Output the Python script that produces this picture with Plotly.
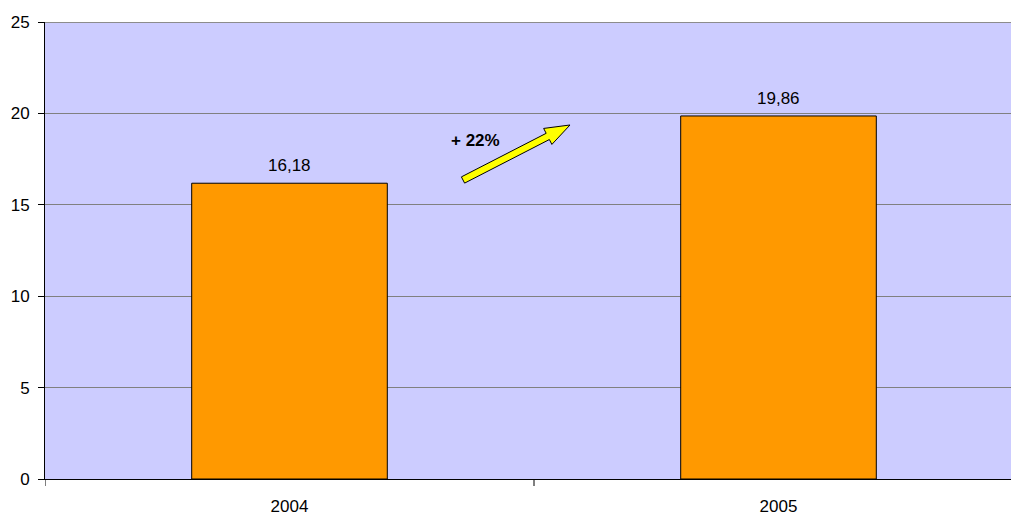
import numpy as np
import plotly.graph_objects as go

categories = ["2004", "2005"]
values = [16.18, 19.86]
y_ticks = [0, 5, 10, 15, 20, 25]
growth_label = "+ 22%"
title_text = "(v miliónoch EUR)"

W, H = 1011, 516
ML, MR, MT, MB = 45, 0, 22, 37
PW, PH = W - ML - MR, H - MT - MB

def px_to_paper(px, py):
    return (px - ML) / PW, (H - MB - py) / PH

# arrow polygon (decoration), built from tail/tip pixel positions
tail = np.array([463.0, 180.0])
tip = np.array([570.0, 125.0])
d = tip - tail
L = np.linalg.norm(d)
u = d / L
n = np.array([-u[1], u[0]])
shaft_w, head_w, head_len = 7.0, 18.0, 25.0
base = tip - u * head_len
pts = [tail + n * shaft_w / 2, base + n * shaft_w / 2, base + n * head_w / 2, tip,
       base - n * head_w / 2, base - n * shaft_w / 2, tail - n * shaft_w / 2]
path = ""
for i, p in enumerate(pts):
    x, y = px_to_paper(*p)
    path += ("M" if i == 0 else "L") + f"{x:.5f},{y:.5f} "
path += "Z"

fig = go.Figure()
fig.add_trace(go.Bar(
    x=[0, 1], y=values, width=0.4,
    marker=dict(color="#FF9900", line=dict(color="#000000", width=1)),
))

fig.update_layout(
    width=W, height=H,
    margin=dict(l=ML, r=MR, t=MT, b=MB, pad=0, autoexpand=False),
    paper_bgcolor="#FFFFFF", plot_bgcolor="#CCCCFF",
    separators=",.",
    showlegend=False,
    font=dict(family="Liberation Sans, Arial", size=17, color="#000000"),
    xaxis=dict(
        range=[-0.5, -0.5 + PW / 489.0],
        tickmode="array", tickvals=[0, 1], ticktext=categories,
        showgrid=False, zeroline=False, automargin=False,
        showline=True, linecolor="#000000", linewidth=1,
        ticks="", ticklabelstandoff=12,
        tickfont=dict(size=17),
    ),
    yaxis=dict(
        range=[0, 25], tickvals=y_ticks, automargin=False,
        showgrid=True, gridcolor="#808080", gridwidth=1,
        zeroline=False,
        showline=True, linecolor="#000000", linewidth=1,
        ticks="outside", ticklen=6, tickcolor="#000000",
        ticklabelstandoff=5,
        tickfont=dict(size=17),
    ),
    bargap=0.6,
)

# value labels above bars
for i, v in enumerate(values):
    fig.add_annotation(x=i, y=v, xref="x", yref="y", text=f"{v:.2f}".replace(".", ","),
                       showarrow=False, xanchor="center", yanchor="bottom", yshift=6,
                       font=dict(size=17, color="#000000"))

# x ticks at category boundaries
for b in [-0.5, 0.5, 1.5]:
    fig.add_shape(type="line", xref="x", yref="paper", x0=b, x1=b, y0=0, y1=-7 / PH,
                  line=dict(color="#000000", width=1))
# top border line (slightly darker)
fig.add_shape(type="line", xref="paper", yref="y", x0=0, x1=1, y0=25, y1=25,
              line=dict(color="#8C8C8C", width=2))

fig.add_shape(type="path", xref="paper", yref="paper", path=path,
              fillcolor="#FFFF00", line=dict(color="#000000", width=1))

gx, gy = px_to_paper(475, 140)
fig.add_annotation(x=gx, y=gy, xref="paper", yref="paper", text="<b>" + growth_label + "</b>",
                   showarrow=False, font=dict(size=17, color="#000000", family="Liberation Sans, Arial"),
                   xanchor="center", yanchor="middle")
fig.add_annotation(text="<b>" + title_text + "</b>", x=0.5, y=1, xref="paper", yref="paper",
                   xanchor="center", yanchor="bottom", yshift=20, showarrow=False,
                   font=dict(size=17, color="#000000"))

fig.write_html("out.html")
